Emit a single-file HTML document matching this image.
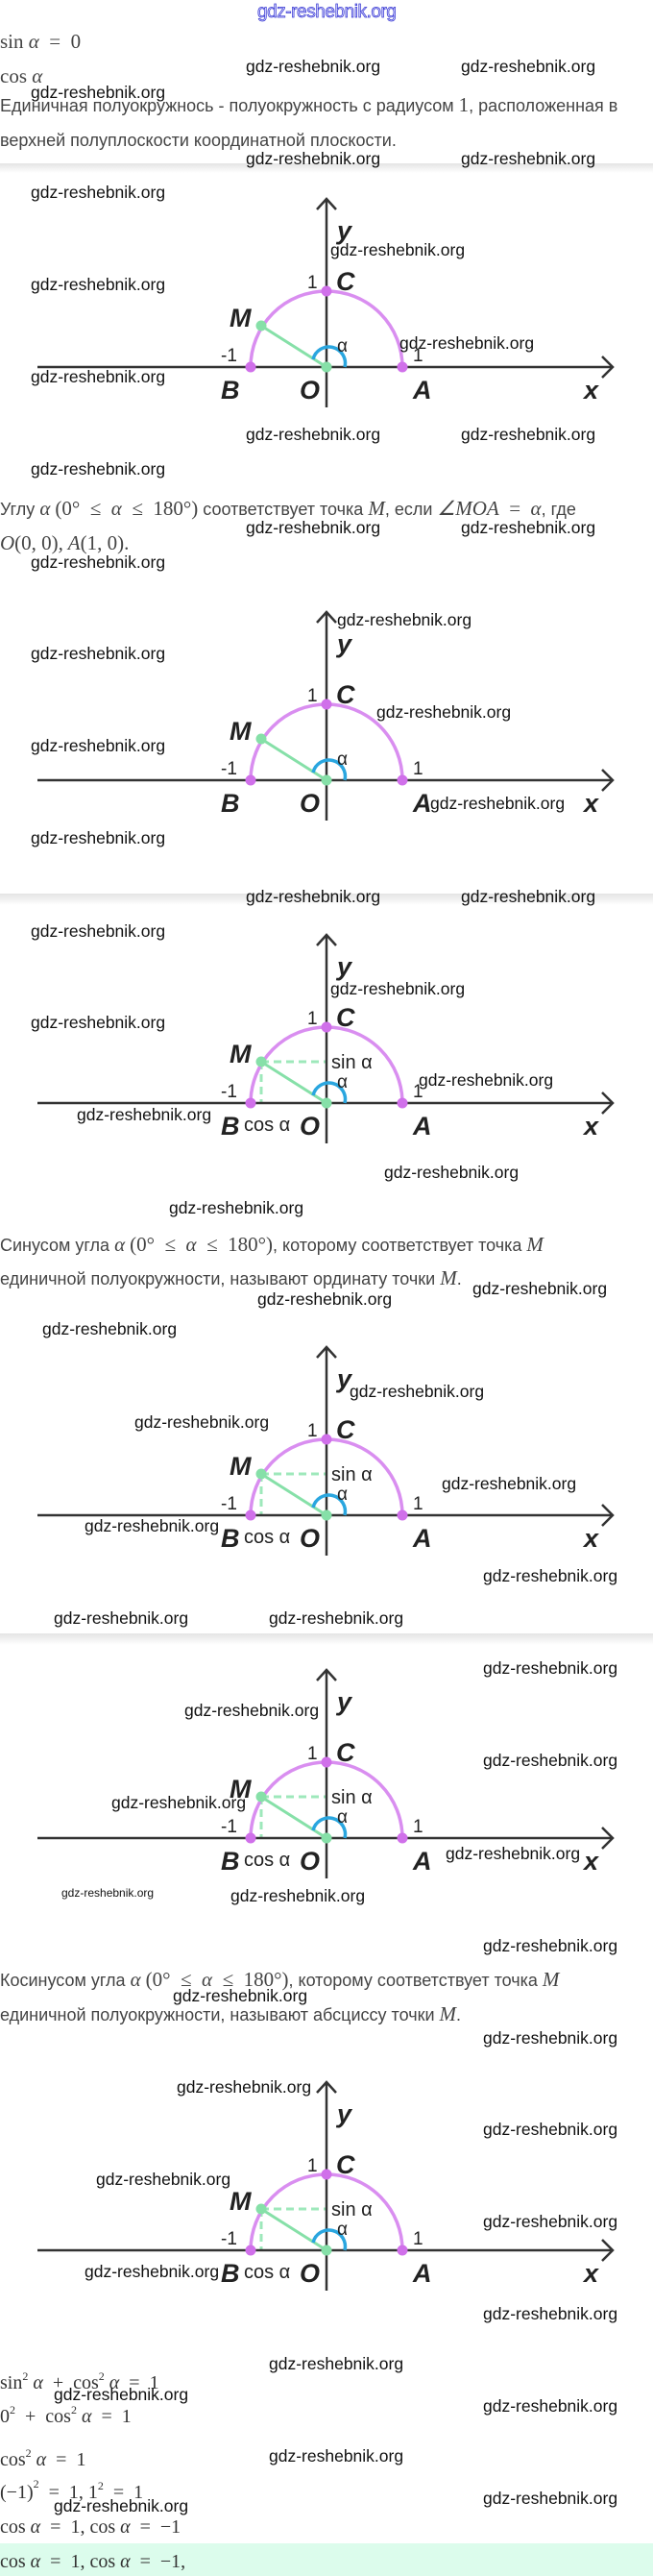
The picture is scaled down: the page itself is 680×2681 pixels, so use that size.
<!DOCTYPE html>
<html><head><meta charset="utf-8"><style>
html,body{margin:0;padding:0;background:#fff;width:680px;height:2681px;overflow:hidden}
svg{display:block}
text{white-space:pre}
.t{font-family:"Liberation Sans",sans-serif;font-size:18px;fill:#444}
.m{font-family:"Liberation Serif",serif;font-size:21px;fill:#444}
.mi{font-family:"Liberation Serif",serif;font-size:21px;fill:#444;font-style:italic}
.f{font-family:"Liberation Serif",serif;font-size:20px;fill:#333}
.w{font-family:"Liberation Sans",sans-serif;font-size:17.5px;fill:#111}
.L{font-family:"Liberation Sans",sans-serif;font-size:27px;font-weight:bold;font-style:italic;fill:#222}
.n{font-family:"Liberation Sans",sans-serif;font-size:19px;fill:#222}
.s{font-family:"Liberation Sans",sans-serif;font-size:20px;fill:#222}
</style></head><body>
<svg width="680" height="2681" viewBox="0 0 680 2681" xmlns="http://www.w3.org/2000/svg">
<defs>
<linearGradient id="sep" x1="0" y1="0" x2="0" y2="1">
<stop offset="0" stop-color="#e4e4e4"/><stop offset="1" stop-color="#ffffff"/></linearGradient>
<g id="base">
<line x1="39" y1="0" x2="637" y2="0" stroke="#333" stroke-width="2.5"/>
<polyline points="627,-11 638,0 627,11" fill="none" stroke="#333" stroke-width="2.5"/>
<line x1="340" y1="-175" x2="340" y2="42" stroke="#333" stroke-width="2.5"/>
<polyline points="330,-164 340,-175 350,-164" fill="none" stroke="#333" stroke-width="2.5"/>
<path d="M261,0 A79,79 0 0 1 419,0" fill="none" stroke="#d98ef0" stroke-width="3.5"/>
<line x1="340" y1="0" x2="272" y2="-43" stroke="#86e0a8" stroke-width="3"/>
<path d="M326,-8 A16,16 0 0 1 359,0" fill="none" stroke="#2aa6df" stroke-width="3.5"/>
<circle cx="261" cy="0" r="5.5" fill="#d070ea"/>
<circle cx="419" cy="0" r="5.5" fill="#d070ea"/>
<circle cx="340" cy="-79" r="5.5" fill="#d070ea"/>
<circle cx="340" cy="0" r="5.5" fill="#86e0a8"/>
<circle cx="272" cy="-43" r="5.5" fill="#86e0a8"/>
</g>
<g id="dash">
<line x1="272" y1="-43" x2="339" y2="-43" stroke="#9ee8bb" stroke-width="3" stroke-dasharray="8,5"/>
<line x1="272" y1="-43" x2="272" y2="-1" stroke="#9ee8bb" stroke-width="3" stroke-dasharray="8,5"/>
</g>
</defs>

<rect x="0" y="170" width="680" height="10" fill="url(#sep)"/>
<rect x="0" y="930" width="680" height="12" fill="url(#sep)"/>
<rect x="0" y="1700" width="680" height="12" fill="url(#sep)"/>
<rect x="0" y="2647" width="680" height="34" fill="#dcfcec"/>

<text x="268" y="18" font-family="Liberation Sans,sans-serif" font-size="19" fill="#d4d4ff" stroke="#3434d0" stroke-width="0.7" textLength="145">gdz-reshebnik.org</text>

<text class="m" x="0" y="50">sin <tspan font-style="italic">α</tspan>  =  0</text>
<text class="m" x="0" y="86">cos <tspan font-style="italic">α</tspan></text>
<text class="t" x="0" y="116">Единичная полуокружнось - полуокружность с радиусом <tspan class="m">1</tspan>, расположенная в</text>
<text class="t" x="0" y="152">верхней полуплоскости координатной плоскости.</text>

<text class="t" x="0" y="536">Углу <tspan class="mi">α</tspan> <tspan class="m">(0°  ≤  </tspan><tspan class="mi">α</tspan><tspan class="m">  ≤  180°)</tspan> соответствует точка <tspan class="mi">M</tspan>, если <tspan class="mi">∠MOA</tspan><tspan class="m">  =  </tspan><tspan class="mi">α</tspan>, где</text>
<text class="mi" x="0" y="572">O<tspan font-style="normal">(0, 0)</tspan>, A<tspan font-style="normal">(1, 0).</tspan></text>

<text class="t" x="0" y="1302">Синусом угла <tspan class="mi">α</tspan> <tspan class="m">(0°  ≤  </tspan><tspan class="mi">α</tspan><tspan class="m">  ≤  180°)</tspan>, которому соответствует точка <tspan class="mi">M</tspan></text>
<text class="t" x="0" y="1337">единичной полуокружности, называют ординату точки <tspan class="mi">M</tspan>.</text>

<text class="t" x="0" y="2067">Косинусом угла <tspan class="mi">α</tspan> <tspan class="m">(0°  ≤  </tspan><tspan class="mi">α</tspan><tspan class="m">  ≤  180°)</tspan>, которому соответствует точка <tspan class="mi">M</tspan></text>
<text class="t" x="0" y="2103">единичной полуокружности, называют абсциссу точки <tspan class="mi">M</tspan>.</text>

<text class="f" x="0" y="2486">sin<tspan font-size="12" dy="-9">2</tspan><tspan dy="9"> </tspan><tspan font-style="italic">α</tspan>  +  cos<tspan font-size="12" dy="-9">2</tspan><tspan dy="9"> </tspan><tspan font-style="italic">α</tspan>  =  1</text>
<text class="f" x="0" y="2521">0<tspan font-size="12" dy="-9">2</tspan><tspan dy="9">  +  cos</tspan><tspan font-size="12" dy="-9">2</tspan><tspan dy="9"> </tspan><tspan font-style="italic">α</tspan>  =  1</text>
<text class="f" x="0" y="2566">cos<tspan font-size="12" dy="-9">2</tspan><tspan dy="9"> </tspan><tspan font-style="italic">α</tspan>  =  1</text>
<text class="f" x="0" y="2600">(−1)<tspan font-size="12" dy="-11">2</tspan><tspan dy="11">  =  1, 1</tspan><tspan font-size="12" dy="-9">2</tspan><tspan dy="9">  =  1</tspan></text>
<text class="f" x="0" y="2636">cos <tspan font-style="italic">α</tspan>  =  1, cos <tspan font-style="italic">α</tspan>  =  −1</text>
<text class="f" x="0" y="2672">cos <tspan font-style="italic">α</tspan>  =  1, cos <tspan font-style="italic">α</tspan>  =  −1,</text>

<g transform="translate(0,382)"><use href="#base"/>
<text class="L" x="351" y="-133">y</text><text class="L" x="350" y="-80">C</text><text class="n" x="320" y="-82">1</text>
<text class="L" x="239" y="-42">M</text><text class="n" x="351" y="-16">α</text><text class="n" x="230" y="-6">-1</text><text class="n" x="430" y="-6">1</text>
<text class="L" x="230" y="33">B</text><text class="L" x="312" y="33">O</text><text class="L" x="430" y="33">A</text><text class="L" x="608" y="33">x</text></g>

<g transform="translate(0,812)"><use href="#base"/>
<text class="L" x="351" y="-133">y</text><text class="L" x="350" y="-80">C</text><text class="n" x="320" y="-82">1</text>
<text class="L" x="239" y="-42">M</text><text class="n" x="351" y="-16">α</text><text class="n" x="230" y="-6">-1</text><text class="n" x="430" y="-6">1</text>
<text class="L" x="230" y="33">B</text><text class="L" x="312" y="33">O</text><text class="L" x="430" y="33">A</text><text class="L" x="608" y="33">x</text></g>

<g transform="translate(0,1148)"><use href="#dash"/><use href="#base"/>
<text class="L" x="351" y="-133">y</text><text class="L" x="350" y="-80">C</text><text class="n" x="320" y="-82">1</text>
<text class="L" x="239" y="-42">M</text><text class="s" x="345" y="-36">sin α</text><text class="n" x="351" y="-16">α</text><text class="n" x="230" y="-6">-1</text><text class="n" x="430" y="-6">1</text>
<text class="L" x="230" y="33">B</text><text class="s" x="254" y="29">cos α</text><text class="L" x="312" y="33">O</text><text class="L" x="430" y="33">A</text><text class="L" x="608" y="33">x</text></g>

<g transform="translate(0,1577)"><use href="#dash"/><use href="#base"/>
<text class="L" x="351" y="-133">y</text><text class="L" x="350" y="-80">C</text><text class="n" x="320" y="-82">1</text>
<text class="L" x="239" y="-42">M</text><text class="s" x="345" y="-36">sin α</text><text class="n" x="351" y="-16">α</text><text class="n" x="230" y="-6">-1</text><text class="n" x="430" y="-6">1</text>
<text class="L" x="230" y="33">B</text><text class="s" x="254" y="29">cos α</text><text class="L" x="312" y="33">O</text><text class="L" x="430" y="33">A</text><text class="L" x="608" y="33">x</text></g>

<g transform="translate(0,1913)"><use href="#dash"/><use href="#base"/>
<text class="L" x="351" y="-133">y</text><text class="L" x="350" y="-80">C</text><text class="n" x="320" y="-82">1</text>
<text class="L" x="239" y="-42">M</text><text class="s" x="345" y="-36">sin α</text><text class="n" x="351" y="-16">α</text><text class="n" x="230" y="-6">-1</text><text class="n" x="430" y="-6">1</text>
<text class="L" x="230" y="33">B</text><text class="s" x="254" y="29">cos α</text><text class="L" x="312" y="33">O</text><text class="L" x="430" y="33">A</text><text class="L" x="608" y="33">x</text></g>

<g transform="translate(0,2342)"><use href="#dash"/><use href="#base"/>
<text class="L" x="351" y="-133">y</text><text class="L" x="350" y="-80">C</text><text class="n" x="320" y="-82">1</text>
<text class="L" x="239" y="-42">M</text><text class="s" x="345" y="-36">sin α</text><text class="n" x="351" y="-16">α</text><text class="n" x="230" y="-6">-1</text><text class="n" x="430" y="-6">1</text>
<text class="L" x="230" y="33">B</text><text class="s" x="254" y="29">cos α</text><text class="L" x="312" y="33">O</text><text class="L" x="430" y="33">A</text><text class="L" x="608" y="33">x</text></g>

<g>
<text class="w" x="256" y="75">gdz-reshebnik.org</text><text class="w" x="480" y="75">gdz-reshebnik.org</text>
<text class="w" x="32" y="102">gdz-reshebnik.org</text>
<text class="w" x="256" y="171">gdz-reshebnik.org</text><text class="w" x="480" y="171">gdz-reshebnik.org</text>
<text class="w" x="32" y="206">gdz-reshebnik.org</text>
<text class="w" x="344" y="266">gdz-reshebnik.org</text>
<text class="w" x="32" y="302">gdz-reshebnik.org</text>
<text class="w" x="416" y="363">gdz-reshebnik.org</text>
<text class="w" x="32" y="398">gdz-reshebnik.org</text>
<text class="w" x="256" y="458">gdz-reshebnik.org</text><text class="w" x="480" y="458">gdz-reshebnik.org</text>
<text class="w" x="32" y="494">gdz-reshebnik.org</text>
<text class="w" x="256" y="555">gdz-reshebnik.org</text><text class="w" x="480" y="555">gdz-reshebnik.org</text>
<text class="w" x="32" y="591">gdz-reshebnik.org</text>
<text class="w" x="351" y="651">gdz-reshebnik.org</text>
<text class="w" x="32" y="686">gdz-reshebnik.org</text>
<text class="w" x="392" y="747">gdz-reshebnik.org</text>
<text class="w" x="32" y="782">gdz-reshebnik.org</text>
<text class="w" x="448" y="842">gdz-reshebnik.org</text>
<text class="w" x="32" y="878">gdz-reshebnik.org</text>
<text class="w" x="256" y="939">gdz-reshebnik.org</text><text class="w" x="480" y="939">gdz-reshebnik.org</text>
<text class="w" x="32" y="975">gdz-reshebnik.org</text>
<text class="w" x="344" y="1035">gdz-reshebnik.org</text>
<text class="w" x="32" y="1070">gdz-reshebnik.org</text>
<text class="w" x="436" y="1130">gdz-reshebnik.org</text>
<text class="w" x="80" y="1166">gdz-reshebnik.org</text>
<text class="w" x="400" y="1226">gdz-reshebnik.org</text>
<text class="w" x="176" y="1263">gdz-reshebnik.org</text>
<text class="w" x="492" y="1347">gdz-reshebnik.org</text>
<text class="w" x="268" y="1358">gdz-reshebnik.org</text>
<text class="w" x="44" y="1389">gdz-reshebnik.org</text>
<text class="w" x="364" y="1454">gdz-reshebnik.org</text>
<text class="w" x="140" y="1486">gdz-reshebnik.org</text>
<text class="w" x="460" y="1550">gdz-reshebnik.org</text>
<text class="w" x="88" y="1594">gdz-reshebnik.org</text>
<text class="w" x="503" y="1646">gdz-reshebnik.org</text>
<text class="w" x="56" y="1690">gdz-reshebnik.org</text><text class="w" x="280" y="1690">gdz-reshebnik.org</text>
<text class="w" x="503" y="1742">gdz-reshebnik.org</text>
<text class="w" x="192" y="1786">gdz-reshebnik.org</text>
<text class="w" x="503" y="1838">gdz-reshebnik.org</text>
<text class="w" x="116" y="1882">gdz-reshebnik.org</text>
<text class="w" x="464" y="1935">gdz-reshebnik.org</text>
<text class="w" x="64" y="1974" style="font-size:12px">gdz-reshebnik.org</text>
<text class="w" x="240" y="1979">gdz-reshebnik.org</text>
<text class="w" x="503" y="2031">gdz-reshebnik.org</text>
<text class="w" x="180" y="2083">gdz-reshebnik.org</text>
<text class="w" x="503" y="2127">gdz-reshebnik.org</text>
<text class="w" x="184" y="2178">gdz-reshebnik.org</text>
<text class="w" x="503" y="2222">gdz-reshebnik.org</text>
<text class="w" x="100" y="2274">gdz-reshebnik.org</text>
<text class="w" x="503" y="2318">gdz-reshebnik.org</text>
<text class="w" x="88" y="2370">gdz-reshebnik.org</text>
<text class="w" x="503" y="2414">gdz-reshebnik.org</text>
<text class="w" x="280" y="2466">gdz-reshebnik.org</text>
<text class="w" x="56" y="2498">gdz-reshebnik.org</text>
<text class="w" x="503" y="2510">gdz-reshebnik.org</text>
<text class="w" x="280" y="2562">gdz-reshebnik.org</text>
<text class="w" x="503" y="2606">gdz-reshebnik.org</text>
<text class="w" x="56" y="2614">gdz-reshebnik.org</text>
</g>
</svg>
</body></html>
